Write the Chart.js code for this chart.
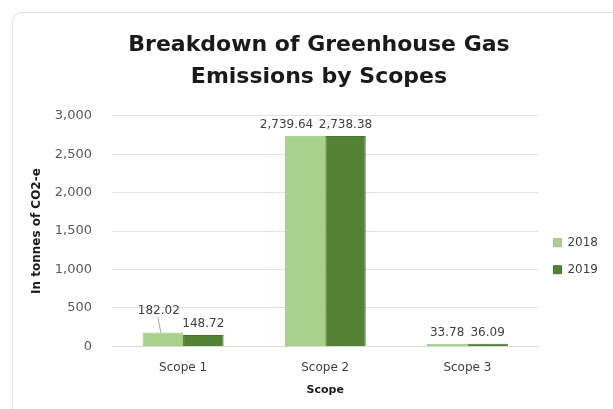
<!DOCTYPE html>
<html>
<head>
<meta charset="utf-8">
<script src="https://cdn.jsdelivr.net/npm/chart.js@4"></script>
<style>
  html, body { margin: 0; padding: 0; background: #fff; }
  body { width: 613px; height: 409px; overflow: hidden; position: relative; }
  .card { position: absolute; left: 12px; top: 12px; width: 640px; height: 440px;
          border: 1px solid #e2e2e2; border-radius: 10px; box-shadow: 0 0 3px rgba(0,0,0,0.06); }
  #wrap { position: absolute; left: 0; top: 0; width: 613px; height: 409px; }
</style>
</head>
<body>
<div class="card"></div>
<div id="wrap"><canvas id="ghgChart"></canvas></div>
<script>
const categories = ["Scope 1", "Scope 2", "Scope 3"];
const years = ["2018", "2019"];
const values2018 = [182.02, 2739.64, 33.78];
const values2019 = [148.72, 2738.38, 36.09];
const yTicks = [0, 500, 1000, 1500, 2000, 2500, 3000];

const fontFamily = "'DejaVu Sans', sans-serif";

// draws the value labels above each bar
const valueLabels = {
    id: 'valueLabels',
    afterDatasetsDraw(chart) {
        const ctx = chart.ctx;
        ctx.save();
        ctx.font = "12px " + fontFamily;
        ctx.fillStyle = "#404040";
        ctx.textAlign = "center";
        ctx.textBaseline = "bottom";
        chart.data.datasets.forEach((ds, di) => {
            const meta = chart.getDatasetMeta(di);
            meta.data.forEach((bar, i) => {
                const txt = ds.data[i].toLocaleString('en-US', { minimumFractionDigits: 2, maximumFractionDigits: 2 });
                const tw = ctx.measureText(txt).width;
                const bw = bar.width;
                let x = bar.x, y = bar.y - 5;
                // keep neighbouring labels apart when they are wider than the bar
                if (tw > bw + 4 && di === 0) {
                    x -= (tw - bw) / 2 + 12;
                }
                if (di === 0 && i === 0) {
                    // label moved up and left with a small leader line
                    x = bar.x - 4; y = bar.y - 16;
                    ctx.strokeStyle = "#a6a6a6";
                    ctx.lineWidth = 1;
                    ctx.beginPath();
                    ctx.moveTo(x - 1, y + 1);
                    ctx.lineTo(x + 2, bar.y);
                    ctx.stroke();
                }
                ctx.fillText(txt, x, y);
            });
        });
        ctx.restore();
    }
};

new Chart(document.getElementById('ghgChart'), {
    type: 'bar',
    data: {
        labels: categories,
        datasets: [
            {
                label: years[0],
                data: values2018,
                backgroundColor: "#a9d18e",
                borderColor: "#9cc47f",
                borderWidth: 1,
                categoryPercentage: 0.57,
                barPercentage: 1.0
            },
            {
                label: years[1],
                data: values2019,
                backgroundColor: "#548235",
                borderColor: "#4a742f",
                borderWidth: 1,
                categoryPercentage: 0.57,
                barPercentage: 1.0
            }
        ]
    },
    options: {
        responsive: true,
        maintainAspectRatio: false,
        animation: false,
        layout: { padding: { left: 30, right: 5, top: 29, bottom: 12 } },
        plugins: {
            title: {
                display: true,
                text: ["Breakdown of Greenhouse Gas", "Emissions by Scopes"],
                color: "#1a1a1a",
                font: { family: fontFamily, size: 22, weight: 'bold', lineHeight: 1.45 },
                padding: { top: 0, bottom: 23 }
            },
            legend: {
                position: 'right',
                title: {
                    display: true,
                    text: ' ',
                    padding: { top: 72, bottom: 0 }
                },
                labels: {
                    boxWidth: 8,
                    boxHeight: 8,
                    padding: 15,
                    color: "#404040",
                    font: { family: fontFamily, size: 12 }
                }
            },
            tooltip: { enabled: false }
        },
        scales: {
            x: {
                grid: { display: false },
                border: { color: "#d9d9d9" },
                ticks: { color: "#404040", font: { family: fontFamily, size: 12 }, padding: 6 },
                title: {
                    display: true,
                    text: "Scope",
                    color: "#1a1a1a",
                    font: { family: fontFamily, size: 11, weight: 'bold' },
                    padding: { top: 3, bottom: 0 }
                }
            },
            y: {
                min: 0,
                max: 3000,
                afterBuildTicks: (axis) => { axis.ticks = yTicks.map(v => ({ value: v })); },
                afterFit: (axis) => { axis.width = 82; },
                grid: { color: "#e3e3e3", drawTicks: false },
                border: { display: false },
                ticks: {
                    color: "#595959",
                    padding: 20,
                    font: { family: fontFamily, size: 13 },
                    callback: (v) => v.toLocaleString('en-US')
                },
                title: {
                    display: true,
                    text: "In tonnes of CO2-e",
                    color: "#1a1a1a",
                    font: { family: fontFamily, size: 12, weight: 'bold' },
                    padding: { top: 0, bottom: 6 }
                }
            }
        }
    },
    plugins: [valueLabels]
});
</script>
</body>
</html>
